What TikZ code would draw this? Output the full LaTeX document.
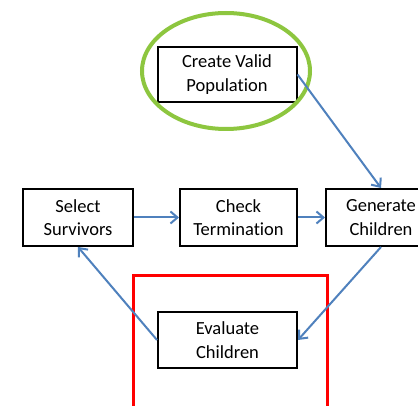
\documentclass[tikz,border=0pt]{standalone}
\usepackage{fontspec}
\setmainfont{Carlito}[Ligatures=NoCommon]
\usetikzlibrary{arrows.meta}
\definecolor{flowblue}{HTML}{4F81BD}
\definecolor{ringgreen}{HTML}{8DC63F}
\begin{document}
\begin{tikzpicture}[x=1pt,y=-1pt,
  stepbox/.style={draw=black,line width=2pt,align=center,inner sep=0pt,
    font=\fontsize{18.5}{23.5}\selectfont},
  flow/.style={draw=flowblue,line width=2pt,-{Straight Barb[length=7pt,width=12pt,line width=2pt]}}]
\useasboundingbox (0,0) rectangle (418,406);
\clip (0,0) rectangle (418,406);
\fill[white] (0,0) rectangle (418,406);
% stage boxes
\node[stepbox,minimum width=139pt,minimum height=55pt] (create) at (227,74.5) {Create Valid\\Population};
\node[stepbox,minimum width=110pt,minimum height=57pt] (select) at (78,217.5) {Select\\Survivors};
\node[stepbox,minimum width=117pt,minimum height=57pt] (check) at (238.5,217.5) {Check\\Termination};
\node[stepbox,minimum width=110pt,minimum height=57pt] (generate) at (381,217.5) {Generate\\Children};
\node[stepbox,minimum width=139pt,minimum height=56pt] (evaluate) at (227.5,340) {Evaluate\\Children};
% highlights
\draw[ringgreen,line width=4pt] (226,71) ellipse [x radius=84pt,y radius=58pt];
\draw[red,line width=3pt] (133,276) rectangle (327,430);
% flow of the loop
\draw[flow] (create.east) -- (generate.north);
\draw[flow] (select.east) -- (check.west);
\draw[flow] (check.east) -- (generate.west);
\draw[flow] (generate.south) -- (evaluate.east);
\draw[flow] (evaluate.west) -- (select.south);
\end{tikzpicture}
\end{document}
